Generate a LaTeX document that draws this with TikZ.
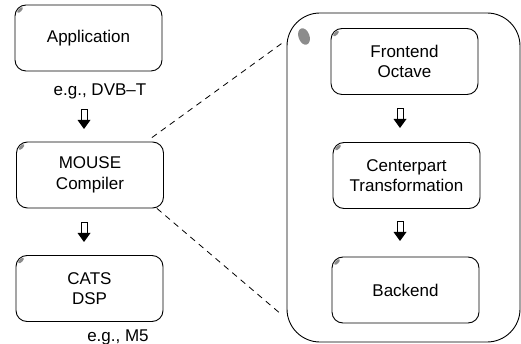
\documentclass[tikz,border=0pt]{standalone}
\usepackage{fontspec}
\setmainfont{Liberation Sans}
\usetikzlibrary{calc}
\begin{document}
\begin{tikzpicture}[x=1pt,y=-1pt,line width=0.9pt,
  box/.style={draw, rounded corners=11pt, minimum width=147pt, minimum height=66pt,
    align=center, font=\fontsize{17}{20.5}\selectfont, inner sep=0pt},
  lbl/.style={font=\fontsize{17}{20}\selectfont, inner sep=0pt},
  cornermark/.style={fill=black!45},
  dashline/.style={line width=0.8pt, dash pattern=on 6pt off 5pt},
  downarrow/.pic={
    \draw[line width=0.9pt, fill=white] (-3,0) rectangle (3,11);
    \fill (-6.5,11) -- (6.5,11) -- (0,20) -- cycle;
  }]
\useasboundingbox (0,0) rectangle (521,344);

% big container
\node[draw, rounded corners=33pt, minimum width=233pt, minimum height=329pt, inner sep=0pt] (big) at (403.5,177.5) {};
\fill[cornermark, rotate around={20:(304,36.5)}] (304,36.5) ellipse [x radius=5.5pt, y radius=8.5pt];

% left column
\node[box] (app) at (88.5,38) {Application};
\node[box] (mouse) at (90,175) {MOUSE\\Compiler};
\node[box] (cats) at (89.5,288.5) {CATS\\DSP};
\node[lbl] (dvb) at (100,91) {e.g., DVB--T};
\node[lbl] (m5) at (118,337) {e.g., M5};

% right column
\node[box] (front) at (404.5,61.5) {Frontend\\Octave};
\node[box] (center) at (406.5,175.5) {Centerpart\\Transformation};
\node[box] (back) at (405.5,290) {Backend};

% corner marks
\foreach \n in {app,mouse,cats,front,center,back}{
  \fill[cornermark, shift={(\n.north west)}, shift={(5.5,5.5)}, rotate=45] (0,0) ellipse [x radius=3.6pt, y radius=1.6pt];
}

% block arrows
\coordinate (a1) at (84,109);
\coordinate (a2) at (84,222);
\coordinate (a3) at (400,108);
\coordinate (a4) at (400,221);
\foreach \c in {a1,a2,a3,a4}{ \pic at (\c) {downarrow}; }

% dashed zoom lines
\coordinate (d1) at ($(mouse.north east)+(-12,-4)$);
\coordinate (d2) at ($(big.north west)+(-5,31)$);
\coordinate (d3) at ($(mouse.south east)+(-7,0)$);
\coordinate (d4) at ($(big.south west)+(-4,-27)$);
\draw[dashline] (d1) -- (d2);
\draw[dashline] (d3) -- (d4);
\end{tikzpicture}
\end{document}
